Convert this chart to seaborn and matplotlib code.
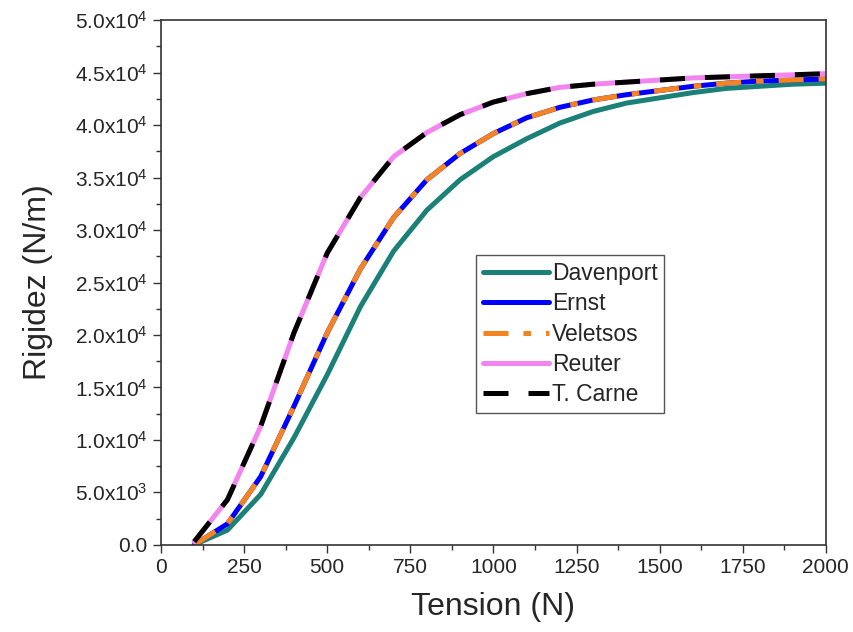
import numpy as np
import pandas as pd
import matplotlib
matplotlib.use("Agg")
import matplotlib.pyplot as plt
import seaborn as sns
from matplotlib.ticker import FuncFormatter, MultipleLocator

tension = [100, 200, 300, 400, 500, 600, 700, 800, 900, 1000,
           1100, 1200, 1300, 1400, 1500, 1600, 1700, 1800, 1900, 2000]

davenport = [0, 1400, 4800, 10200, 16200, 22700, 28000, 31900, 34800, 37000,
             38700, 40200, 41300, 42100, 42600, 43100, 43500, 43700, 43900, 44000]
ernst = [0, 2000, 6500, 13200, 20200, 26300, 31200, 34800, 37300, 39200,
         40700, 41700, 42400, 42900, 43300, 43700, 44000, 44200, 44300, 44400]
veletsos = ernst
reuter = [300, 4300, 11300, 20200, 27800, 33100, 37000, 39300, 41000, 42200,
          43000, 43600, 43900, 44100, 44300, 44500, 44600, 44700, 44800, 44900]
tcarne = reuter

series_names = ["Davenport", "Ernst", "Veletsos", "Reuter", "T. Carne"]
series_vals = [davenport, ernst, veletsos, reuter, tcarne]

sns.set_style("ticks")
plt.rcParams['font.family'] = ['Liberation Sans', 'DejaVu Sans']
plt.rcParams['mathtext.fontset'] = 'custom'
plt.rcParams['mathtext.rm'] = 'Liberation Sans'
plt.rcParams['mathtext.it'] = 'Liberation Sans'

fig = plt.figure(figsize=(8.54, 6.32), dpi=100)
ax = fig.add_axes([0.1885, 0.138, 0.7785, 0.830])

styles = {
    "Davenport": dict(color="#1b8078", ls="-"),
    "Ernst": dict(color="#0000ff", ls="-"),
    "Veletsos": dict(color="#f5831f", ls=(0, (5, 3, 1.5, 3))),
    "Reuter": dict(color="#f385f0", ls="-"),
    "T. Carne": dict(color="#000000", ls=(0, (5, 4))),
}

for name, vals in zip(series_names, series_vals):
    df = pd.DataFrame({"Tension": tension, "Rigidez": vals})
    st = styles[name]
    sns.lineplot(data=df, x="Tension", y="Rigidez", ax=ax, color=st["color"],
                 linestyle=st["ls"], linewidth=3.6, label=name)

ax.set_xlim(0, 2000)
ax.set_ylim(0, 50000)
ax.xaxis.set_major_locator(MultipleLocator(250))
ax.xaxis.set_minor_locator(MultipleLocator(125))
ax.yaxis.set_major_locator(MultipleLocator(5000))
ax.yaxis.set_minor_locator(MultipleLocator(2500))


def yfmt(v, pos):
    if v == 0:
        return "0.0"
    e = int(np.floor(np.log10(abs(v))))
    m = v / 10 ** e
    return f"{m:.1f}x10$^{{{e}}}$"


ax.yaxis.set_major_formatter(FuncFormatter(yfmt))
ax.tick_params(which="major", direction="out", length=5.5, width=1, labelsize=15,
               color="#333333", pad=4)
ax.tick_params(which="minor", direction="out", length=3.5, width=1, color="#333333")
ax.tick_params(top=False, right=False, which="both")
for sp in ax.spines.values():
    sp.set_visible(True)
    sp.set_linewidth(1.2)
    sp.set_color("#333333")

ax.set_xlabel("Tension (N)", fontsize=23, labelpad=11)
ax.set_ylabel("Rigidez (N/m)", fontsize=23, labelpad=16)

leg = ax.legend(loc="upper left", bbox_to_anchor=(0.474, 0.552), fontsize=16.5,
                frameon=True, fancybox=False, edgecolor="#555555", framealpha=1,
                handlelength=2.9, handletextpad=0.1, borderpad=0.3, labelspacing=0.32,
                borderaxespad=0)
leg.get_frame().set_linewidth(1.0)

fig.savefig("out.png", dpi=100)
